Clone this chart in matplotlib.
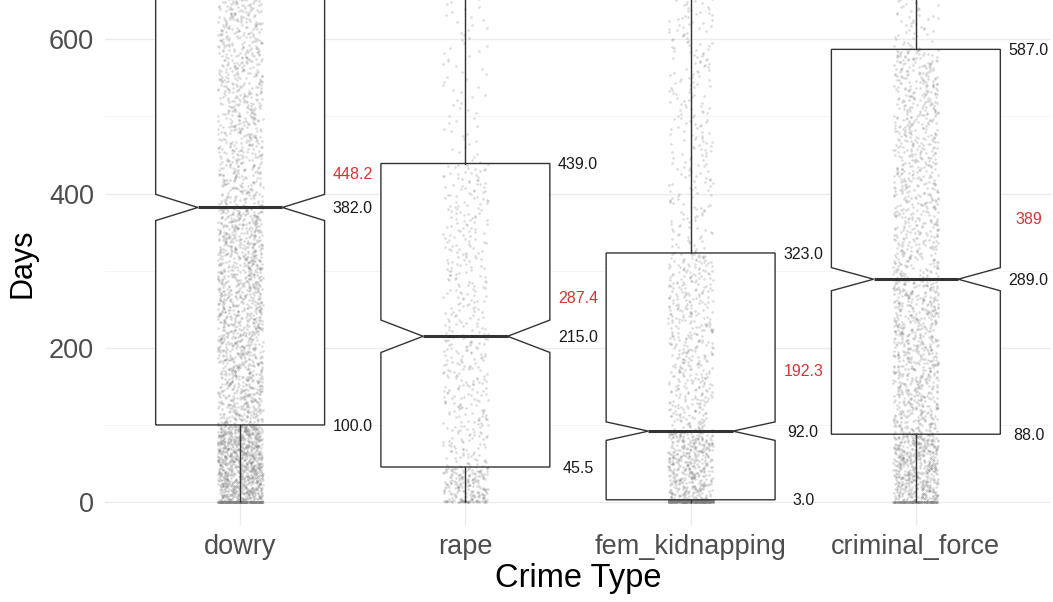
import numpy as np
import matplotlib
matplotlib.use("Agg")
import matplotlib.pyplot as plt

plt.rcParams['font.family'] = ['Liberation Sans', 'DejaVu Sans']

# ---- data ----
categories = ["dowry", "rape", "fem_kidnapping", "criminal_force"]
q1 = [100.0, 45.5, 3.0, 88.0]
median = [382.0, 215.0, 92.0, 289.0]
q3 = [860.0, 439.0, 323.0, 587.0]
means = [448.2, 287.4, 192.3, 389.0]
whisker_low = [0.0, 0.0, 0.0, 0.0]
whisker_high = [1500.0, 1030.0, 800.0, 1330.0]
notch_low = [365.0, 194.0, 80.0, 274.0]
notch_high = [399.0, 236.0, 104.0, 304.0]
n_points = [5000, 880, 1780, 2760]
# approximate distribution quantiles (probability, value) per category for the point cloud
quant_probs = [0.0, 0.05, 0.25, 0.5, 0.75, 0.95, 1.0]
quant_vals = [
    [0, 0, 100, 382, 860, 1500, 3000],
    [0, 2, 45.5, 215, 439, 1030, 2000],
    [0, 0, 3, 92, 323, 800, 1600],
    [0, 0, 88, 289, 587, 1330, 2500],
]
mean_labels = ["448.2", "287.4", "192.3", "389"]

fig = plt.figure(figsize=(10.53, 6.02), dpi=100)
ax = fig.add_axes([105/1053, 76/602, 946/1053, 526/602])

pos = np.arange(1, len(categories) + 1)

stats = []
for i, c in enumerate(categories):
    stats.append(dict(label=c, med=median[i], q1=q1[i], q3=q3[i],
                      whislo=whisker_low[i], whishi=whisker_high[i],
                      cilo=notch_low[i], cihi=notch_high[i], fliers=[]))

# white box fill underneath
ax.bxp(stats, positions=pos, widths=0.75, shownotches=True, showcaps=False,
       showfliers=False, patch_artist=True,
       boxprops=dict(facecolor='white', edgecolor='none', linewidth=0),
       whiskerprops=dict(linewidth=0), medianprops=dict(linewidth=0),
       zorder=1.5)

# jittered point cloud: y from the quantile profile, x offset by a hash-style jitter
for i, c in enumerate(categories):
    n = n_points[i]
    k = np.arange(n)
    p = (k + 0.5) / n
    h = np.sin((k + 1) * 12.9898 + (i + 1) * 78.233) * 43758.5453
    u = h - np.floor(h)
    y = np.interp(p, quant_probs, quant_vals[i])
    x = pos[i] + (u * 2 - 1) * 0.1
    ax.scatter(x, y, s=3.5, color='#808080', alpha=0.28, linewidths=0, zorder=2)

# box outlines on top
ax.bxp(stats, positions=pos, widths=0.75, shownotches=True, showcaps=False,
       showfliers=False, patch_artist=True,
       boxprops=dict(facecolor='none', edgecolor='#333333', linewidth=1.0),
       whiskerprops=dict(color='#333333', linewidth=1.0),
       medianprops=dict(color='#333333', linewidth=2.2, solid_capstyle='butt'),
       zorder=3)

# labels
for i in range(len(categories)):
    xl = pos[i] + 0.5
    for v in (q1[i], median[i], q3[i]):
        if v <= 640:
            ax.text(xl, v - 1.5, f"{v:.1f}", ha='center', va='center', fontsize=11.5,
                    color='#1a1a1a', zorder=4)
    ax.text(xl, means[i] - 23, mean_labels[i], ha='center', va='center',
            fontsize=11.5, color='#dc3232', zorder=4)

ax.set_xlim(0.4, 4.6)
ax.set_ylim(-31, 651)
ax.set_xticks(pos)
ax.set_xticklabels(categories)
ax.set_yticks([0, 200, 400, 600])
ax.set_yticks([100, 300, 500], minor=True)
ax.grid(True, which='major', color='#ebebeb', linewidth=1.0, zorder=0)
ax.grid(True, which='minor', axis='y', color='#f4f4f4', linewidth=0.7, zorder=0)
ax.set_axisbelow(True)
for s in ax.spines.values():
    s.set_visible(False)
ax.tick_params(axis='both', which='both', length=0, labelsize=19.5, labelcolor='#4d4d4d')
ax.tick_params(axis='y', pad=8)
ax.tick_params(axis='x', pad=6)
ax.set_xlabel("Crime Type", fontsize=23.5, color='black', labelpad=2)
ax.set_ylabel("Days", fontsize=22, color='black', labelpad=8)

fig.savefig("out.png", dpi=100)
